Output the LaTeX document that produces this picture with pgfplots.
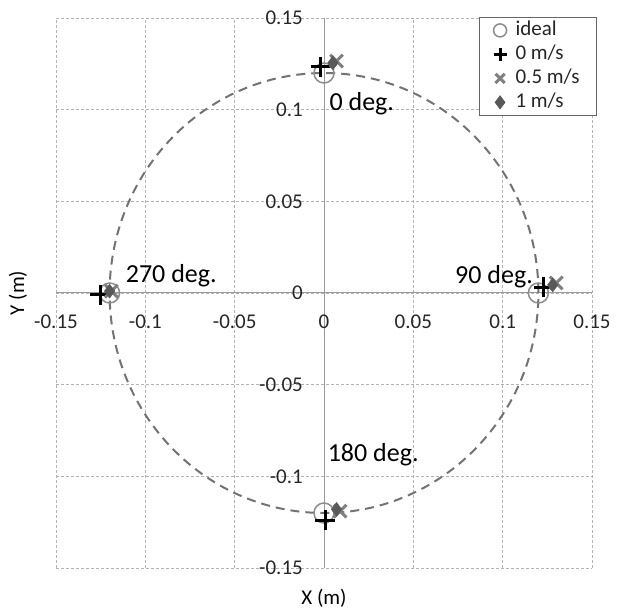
\documentclass[border=0pt]{standalone}
\usepackage{pgfplots}
\pgfplotsset{compat=1.18}
\usepackage{fontspec}
\setmainfont{Carlito}
\newcommand{\tf}{\fontsize{21bp}{25bp}\selectfont}
\newcommand{\lf}{\fontsize{26bp}{31bp}\selectfont}
\begin{document}
\begin{tikzpicture}
\path[use as bounding box] (0,0) rectangle (624bp,612bp);
\begin{axis}[
  scale only axis, width=536bp, height=550bp, at={(56bp,44bp)}, anchor=south west,
  xmin=-0.15, xmax=0.15, ymin=-0.15, ymax=0.15,
  axis lines*=middle,
  axis line style={draw=black!40, line width=1bp},
  xtick={-0.15,-0.1,-0.05,0,0.05,0.1,0.15},
  ytick={-0.15,-0.1,-0.05,0,0.05,0.1,0.15},
  xticklabels={-0.15,-0.1,-0.05,0,0.05,0.1,0.15},
  yticklabels={-0.15,-0.1,-0.05,0,0.05,0.1,0.15},
  hide obscured x ticks=false, hide obscured y ticks=false,
  major tick length=0pt,
  grid=major,
  major grid style={draw=black!30, line width=0.8bp, dash pattern=on 3bp off 2bp},
  xticklabel style={font=\tf, text=black!85, anchor=center, inner sep=0pt, yshift=-29bp},
  yticklabel style={font=\tf, text=black!85, anchor=east, inner sep=0pt, xshift=-21bp},
  clip=false,
  legend style={at={(1,1)}, anchor=north east, xshift=5bp, yshift=1bp,
    draw=black!60, line width=0.8bp, inner xsep=14bp, inner ysep=1bp,
    nodes={font=\tf, inner xsep=3bp, inner ysep=2bp, text height=15bp, text depth=5bp, text=black!85},
    /tikz/every odd column/.append style={column sep=6bp},
    cells={anchor=west}},
  legend image post style={mark size=6.5bp},
]
\draw[black!55, line width=2bp, dash pattern=on 9bp off 6bp]
  (axis cs:0,0) ellipse [x radius=0.12, y radius=0.12];
\addplot[only marks, mark=o, mark size=10bp, draw=black!45, line width=1.5bp]
  coordinates {(0,0.12) (0.12,0) (0,-0.12) (-0.12,0)};
\addlegendentry{ideal}
\addplot[only marks, mark=+, mark size=10bp, draw=black, line width=3bp]
  coordinates {(-0.0017,0.1235) (0.123,0.003) (0.0006,-0.124) (-0.1253,-0.001)};
\addlegendentry{0 m/s}
\addplot[only marks, mark=x, mark size=9bp, draw=black!50, line width=3bp]
  coordinates {(0.007,0.1265) (0.130,0.0055) (0.009,-0.119) (-0.119,0.001)};
\addlegendentry{0.5 m/s}
\addplot[only marks, mark=diamond*, mark size=7bp, draw=black!65, fill=black!65]
  coordinates {(0.005,0.1255) (0.128,0.0044) (0.007,-0.118) (-0.120,0.001)};
\addlegendentry{1 m/s}
\node[font=\lf, anchor=base west, inner sep=0pt] at (axis cs:0.003,0.0998) {0 deg.};
\node[font=\lf, anchor=base east, inner sep=0pt] at (axis cs:0.117,0.005) {90 deg.};
\node[font=\lf, anchor=base west, inner sep=0pt] at (axis cs:-0.111,0.0055) {270 deg.};
\node[font=\lf, anchor=base west, inner sep=0pt] at (axis cs:0.002,-0.0917) {180 deg.};
\end{axis}
\node[font=\tf] at (324bp,14bp) {X (m)};
\node[font=\tf, rotate=90] at (18bp,319bp) {Y (m)};
\end{tikzpicture}
\end{document}
